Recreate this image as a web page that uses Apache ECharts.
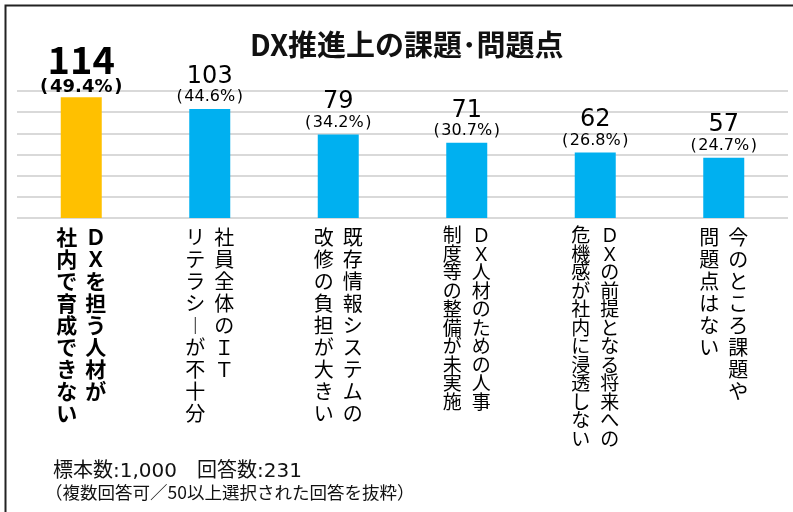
<!DOCTYPE html>
<html>
<head>
<meta charset="utf-8">
<script src="https://cdn.jsdelivr.net/npm/echarts@6/dist/echarts.min.js"></script>
<style>
  html, body { margin: 0; padding: 0; background: #fff; }
  #chart { width: 793px; height: 512px; }
</style>
</head>
<body>
<div id="chart"></div>
<script>
// カテゴリ（縦書き：右の列 \n 左の列）
const categories = [
  'ＤＸを担う人材が\n社内で育成できない',
  '社員全体のＩＴ\nリテラシーが不十分',
  '既存情報システムの\n改修の負担が大きい',
  'ＤＸ人材のための人事\n制度等の整備が未実施',
  'ＤＸの前提となる将来への\n危機感が社内に浸透しない',
  '今のところ課題や\n問題点はない'
]
const counts = [114, 103, 79, 71, 62, 57]
const percents = ['49.4', '44.6', '34.2', '30.7', '26.8', '24.7']
const barColors = ['#FFC000', '#00B0F0', '#00B0F0', '#00B0F0', '#00B0F0', '#00B0F0']
const footnote = ['標本数:1,000　回答数:231', '（複数回答可／50以上選択された回答を抜粋）']

const FONT = '"Noto Sans CJK JP", "Noto Sans", sans-serif'
const WIDE = '"DejaVu Sans", "Noto Sans CJK JP", sans-serif'

// 縦書きラベルを作る（列ごとに1文字ずつ、長音は縦棒に）
const verticalLabel = (value, index) => {
  const cols = value.split('\n').map(s => Array.from(s.replace(/[\u30FC\uFF70\u2015\u2014]/g, '\uFE31')))
  const n = Math.max(...cols.map(c => c.length))
  const st = index === 0 ? 'b' : (index === 3 || index === 4 ? 's' : 'n')
  const lines = []
  for (let i = 0; i < n; i++) {
    const right = cols[0][i] || '　'
    const left = (cols[1] && cols[1][i]) || '　'
    lines.push('{' + st + '|' + left + '}{' + st + '|' + right + '}')
  }
  return lines.join('\n')
}

const chart = echarts.init(document.getElementById('chart'))

const option = {
  animation: false,
  backgroundColor: '#fff',
  title: [
    {
      text: 'DX推進上の課題･問題点',
      left: 245,
      top: 25,
      textStyle: { fontFamily: FONT, fontSize: 29, fontWeight: 'bold', color: '#111' }
    },
    {
      text: '{a|' + footnote[0] + '}\n{b|' + footnote[1] + '}',
      left: 40,
      top: 456,
      textStyle: {
        fontWeight: 'normal',
        rich: {
          a: { fontFamily: WIDE, fontSize: 20, fontWeight: 'normal', color: '#111', lineHeight: 21, padding: [0, 0, 0, 8] },
          b: { fontFamily: FONT, fontSize: 17.5, fontWeight: 'normal', color: '#111', lineHeight: 21 }
        }
      }
    }
  ],
  graphic: [
    {
      type: 'polyline',
      shape: { points: [[5.5, 600], [5.5, 5.5], [800, 5.5]] },
      style: { stroke: '#222', lineWidth: 2, fill: null }
    }
  ],
  grid: { left: 17, right: 5, top: 91, bottom: 294 },
  xAxis: {
    type: 'category',
    data: categories,
    axisLine: { show: false },
    axisTick: { show: false },
    axisLabel: {
      interval: 0,
      margin: 8,
      formatter: verticalLabel,
      rich: {
        b: { fontFamily: FONT, fontSize: 21, fontWeight: 'bold', color: '#000', width: 29, align: 'center', lineHeight: 22 },
        n: { fontFamily: FONT, fontSize: 20, color: '#000', width: 29, align: 'center', lineHeight: 22 },
        s: { fontFamily: FONT, fontSize: 19, color: '#000', width: 29, align: 'center', lineHeight: 18.5 }
      }
    }
  },
  yAxis: {
    type: 'value',
    min: 0,
    max: 120,
    interval: 20,
    axisLabel: { show: false },
    axisLine: { show: false },
    axisTick: { show: false },
    splitLine: { lineStyle: { color: '#d9d9d9', width: 2 } }
  },
  series: [
    {
      type: 'bar',
      barWidth: 41,
      data: counts.map((v, i) => ({
        value: v,
        itemStyle: { color: barColors[i] },
        label: {
          distance: i === 0 ? 1 : 4,
          rich: i === 0
            ? {
                v: { fontFamily: FONT, fontSize: 38, fontWeight: 'bold', color: '#000', lineHeight: 38 },
                p: { fontFamily: WIDE, fontSize: 18, fontWeight: 'bold', color: '#000', lineHeight: 18 }
              }
            : {
                v: { fontFamily: WIDE, fontSize: 24, color: '#000', lineHeight: 25 },
                p: { fontFamily: WIDE, fontSize: 16, color: '#000', lineHeight: 16 }
              }
        }
      })),
      label: {
        show: true,
        position: 'top',
        align: 'center',
        formatter: p => '{v|' + p.value + '}\n{p|(\u200A' + percents[p.dataIndex] + '%\u200A)}'
      }
    }
  ]
}

chart.setOption(option)
</script>
</body>
</html>
